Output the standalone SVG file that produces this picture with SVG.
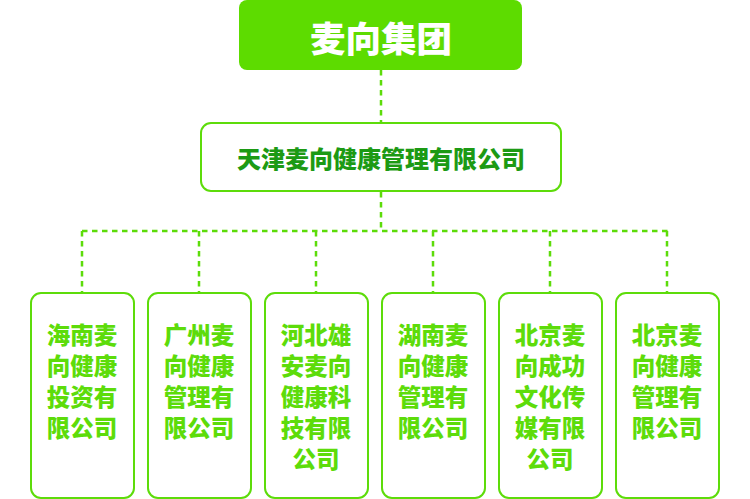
<svg xmlns="http://www.w3.org/2000/svg" width="750" height="499" viewBox="0 0 750 499">
<style>
text{font-family:"Noto Sans CJK SC","Noto Sans",sans-serif;font-weight:900;text-anchor:middle}
.conn{fill:none;stroke:#5ddc0a;stroke-width:2.5;stroke-dasharray:5.5 4.5}
.box{fill:#fff;stroke:#5ddc0a;stroke-width:2}
.sub{fill:#5ddc0a;font-size:23.5px}
</style>
<rect width="750" height="499" fill="#fff"/>
<g id="connectors">
<path class="conn" d="M381 70V122M381 192V231M82 231H668M82 231V292M199 231V292M316 231V292M433 231V292M550 231V292M667 231V292"/>
</g>
<g id="root">
<rect x="239" y="0" width="283" height="70" rx="8" fill="#5ddc00"/>
<text x="381" y="51.5" font-size="35.5" fill="#fff">麦向集团</text>
</g>
<g id="tianjin">
<rect class="box" x="201" y="123" width="360" height="68" rx="10"/>
<text x="381" y="168" font-size="24" fill="#1c9a14">天津麦向健康管理有限公司</text>
</g>
<g id="hainan">
<rect class="box" x="31" y="293" width="103" height="205" rx="10"/>
<text class="sub" x="82" y="344">海南麦</text>
<text class="sub" x="82" y="375">向健康</text>
<text class="sub" x="82" y="406">投资有</text>
<text class="sub" x="82" y="437">限公司</text>
</g>
<g id="guangzhou">
<rect class="box" x="148" y="293" width="103" height="205" rx="10"/>
<text class="sub" x="199" y="344">广州麦</text>
<text class="sub" x="199" y="375">向健康</text>
<text class="sub" x="199" y="406">管理有</text>
<text class="sub" x="199" y="437">限公司</text>
</g>
<g id="hebei">
<rect class="box" x="265" y="293" width="103" height="205" rx="10"/>
<text class="sub" x="316" y="344">河北雄</text>
<text class="sub" x="316" y="375">安麦向</text>
<text class="sub" x="316" y="406">健康科</text>
<text class="sub" x="316" y="437">技有限</text>
<text class="sub" x="316" y="468">公司</text>
</g>
<g id="hunan">
<rect class="box" x="382" y="293" width="103" height="205" rx="10"/>
<text class="sub" x="433" y="344">湖南麦</text>
<text class="sub" x="433" y="375">向健康</text>
<text class="sub" x="433" y="406">管理有</text>
<text class="sub" x="433" y="437">限公司</text>
</g>
<g id="beijing-culture">
<rect class="box" x="499" y="293" width="103" height="205" rx="10"/>
<text class="sub" x="550" y="344">北京麦</text>
<text class="sub" x="550" y="375">向成功</text>
<text class="sub" x="550" y="406">文化传</text>
<text class="sub" x="550" y="437">媒有限</text>
<text class="sub" x="550" y="468">公司</text>
</g>
<g id="beijing-health">
<rect class="box" x="616" y="293" width="103" height="205" rx="10"/>
<text class="sub" x="667" y="344">北京麦</text>
<text class="sub" x="667" y="375">向健康</text>
<text class="sub" x="667" y="406">管理有</text>
<text class="sub" x="667" y="437">限公司</text>
</g>
</svg>
